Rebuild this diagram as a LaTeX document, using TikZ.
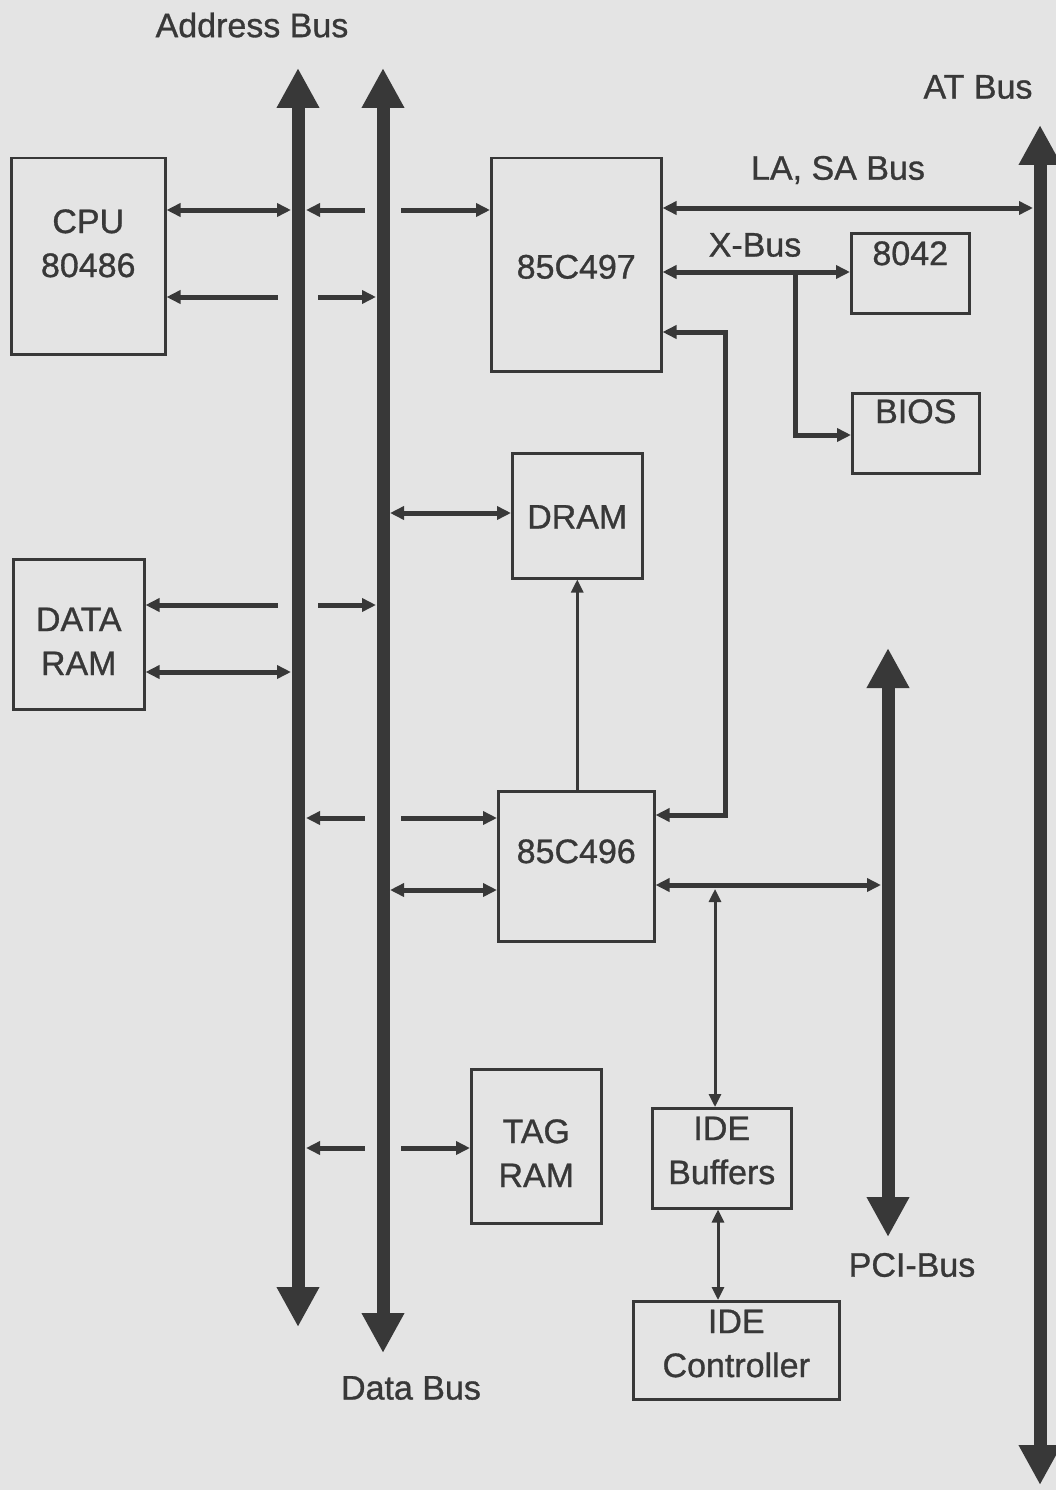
\documentclass[tikz,border=0pt]{standalone}
\usepackage{fontspec}
\setmainfont{Liberation Sans}[UprightFeatures={FakeBold=0.9}]
\usetikzlibrary{arrows.meta,calc}
\definecolor{bg}{RGB}{228,228,228}
\definecolor{ink}{RGB}{56,56,56}
\newcommand\boxtext[2]{\raisebox{#1}[\height][\depth]{\begin{tabular}{@{}c@{}}#2\end{tabular}}}
\begin{document}
\begin{tikzpicture}[x=1pt,y=-1pt,
  box/.style={draw=ink, line width=2.5pt, inner sep=0pt, anchor=north west,
    text=ink, font=\fontsize{34}{44}\selectfont},
  lbl/.style={text=ink, inner sep=0pt, font=\fontsize{34}{44}\selectfont},
  conn/.style={draw=ink, line width=5pt, >={Triangle[length=14pt,width=13pt]}},
  thin/.style={draw=ink, line width=3pt, >={Triangle[length=13pt,width=12pt]}},
  bus/.style={draw=ink, line width=13pt,
    {Triangle[length=40pt,width=40pt]}-{Triangle[length=40pt,width=40pt]}}]
\fill[bg] (0,0) rectangle (1056,1490);
\useasboundingbox (0,0) rectangle (1056,1490);

% buses
\coordinate (abT) at (298,68);  \coordinate (abB) at (298,1327);
\coordinate (dbT) at (383,68);  \coordinate (dbB) at (383,1353);
\coordinate (pciT) at (888,648); \coordinate (pciB) at (888,1237);
\coordinate (atT) at (1040,125); \coordinate (atB) at (1040,1485);
\draw[bus] (abT) -- (abB);
\draw[bus] (dbT) -- (dbB);
\draw[bus] (pciT) -- (pciB);
\draw[bus] (atT) -- (atB);

% labels
\node[lbl] (lab-addr) at (252,25) {Address Bus};
\node[lbl] (lab-at) at (978,87) {AT Bus};
\node[lbl] (lab-lasa) at (838,170) {LA, SA Bus};
\node[lbl] (lab-x) at (755,245) {X-Bus};
\node[lbl] (lab-pci) at (912,1265) {PCI-Bus};
\node[lbl] (lab-data) at (411,1388) {Data Bus};

% boxes
\node[box, minimum width=154pt, minimum height=196pt] (cpu) at (10,157) {\boxtext{10pt}{CPU\\80486}};
\node[box, minimum width=170pt, minimum height=213pt] (n497) at (490,157) {\boxtext{-5pt}{85C497}};
\node[box, minimum width=118pt, minimum height=80pt] (k8042) at (850,232) {\boxtext{17pt}{8042}};
\node[box, minimum width=127pt, minimum height=80pt] (bios) at (851,392) {\boxtext{19pt}{BIOS}};
\node[box, minimum width=130pt, minimum height=125pt] (dram) at (511,452) {\boxtext{-4pt}{DRAM}};
\node[box, minimum width=131pt, minimum height=150pt] (dataram) at (12,558) {\boxtext{-10pt}{DATA\\RAM}};
\node[box, minimum width=156pt, minimum height=150pt] (n496) at (497,790) {\boxtext{12pt}{85C496}};
\node[box, minimum width=130pt, minimum height=154pt] (tag) at (470,1068) {\boxtext{-10pt}{TAG\\RAM}};
\node[box, minimum width=139pt, minimum height=100pt] (ideb) at (651,1107) {\boxtext{5pt}{IDE\\Buffers}};
\node[box, minimum width=206pt, minimum height=98pt] (idec) at (632,1300) {\boxtext{4pt}{IDE\\Controller}};

% CPU connections
\draw[conn,<->] (cpu.east |- 0,210) -- (291,210);
\draw[conn,<-] (306,210) -- (365,210);
\draw[conn,->] (401,210) -- (n497.west |- 0,210);
\draw[conn,<-] (cpu.east |- 0,297) -- (278,297);
\draw[conn,->] (318,297) -- (376,297);

% DATA RAM connections
\draw[conn,<-] (dataram.east |- 0,605) -- (278,605);
\draw[conn,->] (318,605) -- (376,605);
\draw[conn,<->] (dataram.east |- 0,672) -- (291,672);

% DRAM
\draw[conn,<->] (390,513) -- (dram.west |- 0,513);
\draw[thin,->] (n496.north -| dram.south) -- (dram.south);

% 85C496 to buses
\draw[conn,<-] (306,818) -- (365,818);
\draw[conn,->] (401,818) -- (n496.west |- 0,818);
\draw[conn,<->] (390,890) -- (n496.west |- 0,890);

% TAG RAM
\draw[conn,<-] (306,1148) -- (365,1148);
\draw[conn,->] (401,1148) -- (tag.west |- 0,1148);

% 85C497 right side
\draw[conn,<->] (n497.east |- 0,208) -- (1033,208);
\draw[conn,<->] (n497.east |- 0,272) -- (k8042.west |- 0,272);
\draw[conn,->] (795,272) -- (795,435) -- (bios.west |- 0,435);
\draw[conn,<->] (n496.east |- 0,815) -- (725,815) -- (725,332) -- (n497.east |- 0,332);

% 85C496 to PCI and IDE
\draw[conn,<->] (n496.east |- 0,885) -- (881,885);
\draw[thin,<->] (715,889) -- (ideb.north -| 715,0);
\draw[thin,<->] (ideb.south -| 718,0) -- (idec.north -| 718,0);
\end{tikzpicture}
\end{document}
